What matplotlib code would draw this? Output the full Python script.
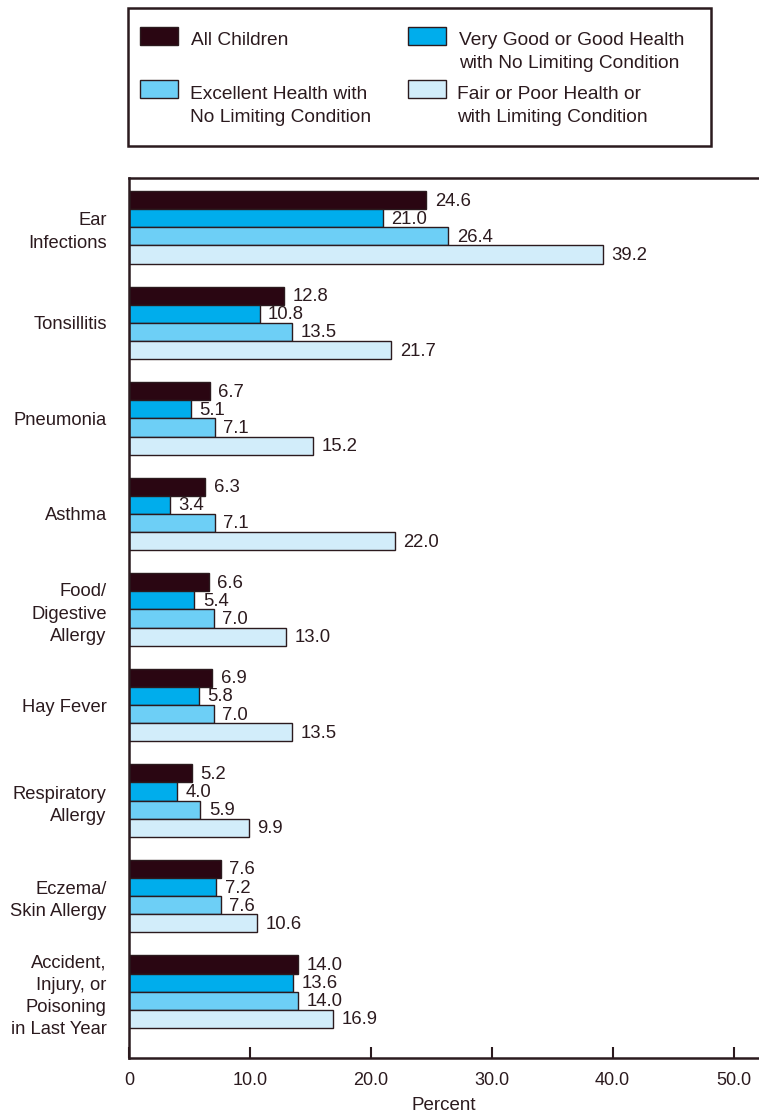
import numpy as np
import matplotlib.pyplot as plt
from matplotlib.patches import Rectangle

plt.rcParams['font.family'] = ['Liberation Sans', 'DejaVu Sans']
plt.rcParams['font.size'] = 13.5

categories = ['Ear\nInfections', 'Tonsillitis', 'Pneumonia', 'Asthma',
              'Food/\nDigestive\nAllergy', 'Hay Fever', 'Respiratory\nAllergy',
              'Eczema/\nSkin Allergy',
              'Accident,\nInjury, or\nPoisoning\nin Last Year']

all_children = [24.6, 12.8, 6.7, 6.3, 6.6, 6.9, 5.2, 7.6, 14.0]
very_good = [21.0, 10.8, 5.1, 3.4, 5.4, 5.8, 4.0, 7.2, 13.6]
excellent = [26.4, 13.5, 7.1, 7.1, 7.0, 7.0, 5.9, 7.6, 14.0]
fair_poor = [39.2, 21.7, 15.2, 22.0, 13.0, 13.5, 9.9, 10.6, 16.9]

series_names = ['All Children',
                'Very Good or Good Health\nwith No Limiting Condition',
                'Excellent Health with\nNo Limiting Condition',
                'Fair or Poor Health or\nwith Limiting Condition']
colors = ['#2a0612', '#00adec', '#6dcff6', '#d2edfa']
ink = '#2b1a1e'

fig = plt.figure(figsize=(7.59, 11.13), dpi=100)
ax = fig.add_axes([129 / 759, 1 - 1058 / 1113, 1 - 129 / 759, (1058 - 178) / 1113])

idx = np.arange(len(categories))
h = 0.19
series = [all_children, very_good, excellent, fair_poor]
for j, (vals, c) in enumerate(zip(series, colors)):
    y = idx + (j - 1.5) * h
    ax.barh(y, vals, height=h, color=c, edgecolor=ink, linewidth=1.0)
    for yy, v in zip(y, vals):
        ax.text(v + 0.7, yy + 0.01, f'{v:.1f}', va='center', ha='left',
                fontsize=13.3, color=ink)

ax.set_xlim(0, 52.1)
ax.set_ylim(8 + 0.38 + 30 / 95.5, -0.38 - 13 / 95.5)
ax.set_yticks(idx)
ax.set_yticklabels(categories, color=ink, fontsize=13.2, linespacing=1.4)
ax.tick_params(axis='y', length=0, pad=16)
ax.set_xticks([0, 10, 20, 30, 40, 50])
ax.set_xticklabels(['0', '10.0', '20.0', '30.0', '40.0', '50.0'], color=ink, fontsize=13)
ax.tick_params(axis='x', direction='in', length=8, width=1.5, color=ink, pad=10)
ax.set_xlabel('Percent', color=ink, fontsize=13.5, labelpad=6)
for s in ['left', 'bottom', 'top']:
    ax.spines[s].set_color(ink)
    ax.spines[s].set_linewidth(1.8)
ax.spines['right'].set_visible(False)

# legend box drawn in pixel coordinates of the figure
W, H = 759, 1113


def fx(px):
    return px / W


def fy(py):
    return 1 - py / H


fig.add_artist(Rectangle((fx(128), fy(146)), fx(711) - fx(128), fy(8) - fy(146),
                         transform=fig.transFigure, facecolor='white',
                         edgecolor=ink, linewidth=1.8))
entries = [(0, 140, 27, 191, 5), (1, 408, 27, 459, 5), (2, 140, 80, 190, 6), (3, 408, 80, 457, 6)]
for k, hx, hy, tx, dy in entries:
    fig.add_artist(Rectangle((fx(hx), fy(hy + 18)), fx(hx + 38) - fx(hx), fy(hy) - fy(hy + 18),
                             transform=fig.transFigure, facecolor=colors[k],
                             edgecolor=ink, linewidth=1.0))
    fig.text(fx(tx), fy(hy + dy), series_names[k], ha='left', va='top',
             fontsize=13.8, color=ink, linespacing=1.5)

fig.savefig('out.png', dpi=100)
